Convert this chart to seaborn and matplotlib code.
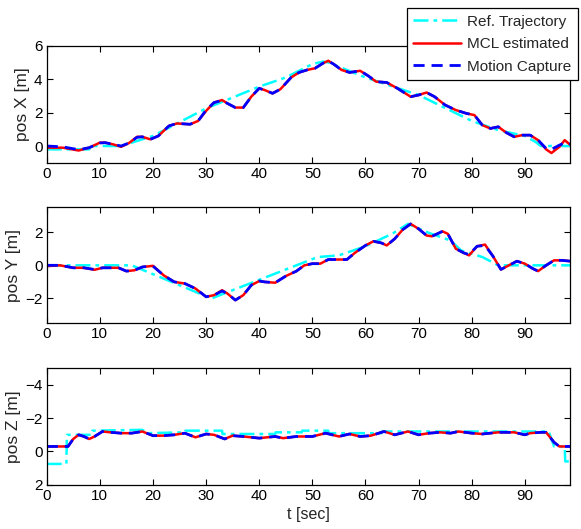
import numpy as np
import pandas as pd
import matplotlib
matplotlib.use('Agg')
import matplotlib.pyplot as plt
import seaborn as sns

sns.set_theme(style='ticks')
plt.rcParams['font.family'] = ['Liberation Sans', 'DejaVu Sans']
plt.rcParams['font.size'] = 11

# ---- data ----
# pos X
t_x = [0, 3, 6, 8, 10, 11, 12.5, 14, 15.5, 17, 18, 19.5, 21, 23, 24.5, 27, 28.5, 30, 31.5, 33,
       34, 35.5, 37, 38.5, 40, 41, 42.5, 44, 46, 47.5, 49, 50.5, 52, 53, 54, 55.5, 57, 59,
       60.5, 62, 64, 66, 68.5, 70, 71.5, 73, 75, 77, 79, 80.5, 82, 83.5, 85, 86.5, 88, 89.5,
       91, 92.5, 94, 95, 96.5, 97.5, 98.5]
mocap_x = [0.0, -0.05, -0.22, -0.1, 0.18, 0.2, 0.1, 0.0, 0.18, 0.52, 0.55, 0.4, 0.6, 1.2, 1.35, 1.3,
           1.5, 2.15, 2.6, 2.72, 2.55, 2.3, 2.3, 2.95, 3.45, 3.35, 3.15, 3.4, 4.1, 4.4, 4.55, 4.65,
           4.95, 5.08, 4.9, 4.55, 4.4, 4.5, 4.2, 3.85, 3.8, 3.45, 2.95, 3.05, 3.2, 2.95, 2.45, 2.15,
           1.95, 1.85, 1.25, 1.05, 1.15, 0.8, 0.55, 0.65, 0.65, 0.35, -0.15, -0.2, 0.05, 0.2, 0.12]
mcl_x = [-0.1, -0.1, -0.27, -0.1, 0.2, 0.2, 0.1, -0.05, 0.18, 0.55, 0.55, 0.4, 0.6, 1.2, 1.35, 1.3,
         1.5, 2.1, 2.6, 2.75, 2.55, 2.3, 2.3, 2.95, 3.45, 3.35, 3.15, 3.4, 4.1, 4.4, 4.55, 4.65,
         4.95, 5.1, 4.9, 4.55, 4.4, 4.5, 4.2, 3.85, 3.8, 3.45, 2.95, 3.05, 3.2, 2.95, 2.45, 2.15,
         1.95, 1.85, 1.25, 1.05, 1.15, 0.8, 0.55, 0.65, 0.65, 0.35, -0.2, -0.42, -0.05, 0.35, 0.08]
t_ref_x = [0, 8, 8.5, 14, 20, 30, 40, 45, 50, 52, 53, 60, 70, 80, 85, 90, 92, 93, 98.5]
ref_x = [-0.2, -0.2, 0.0, 0.0, 0.6, 2.25, 3.55, 4.1, 4.9, 5.05, 5.0, 4.1, 3.05, 1.5, 0.95, 0.6, 0.25, 0.0, 0.0]

# pos Y
t_y = [0, 2.5, 5, 7, 9, 10.5, 12, 13.5, 15, 16.5, 18, 19.5, 20, 22, 24, 26, 28, 30, 31.5, 33, 34,
       35.5, 37, 38.5, 40, 41, 43, 45, 47, 48.5, 50, 51.5, 53, 55, 56.5, 58, 60, 61.5, 63, 64,
       65.5, 67, 68.5, 70, 71.5, 72.5, 74.5, 75.5, 77, 78.5, 79.5, 81, 82.5, 84, 85.5, 87, 88.5,
       90, 91.5, 92.5, 94, 95.5, 97, 98.5]
mocap_y = [0.0, 0.0, -0.15, -0.15, -0.25, -0.15, -0.15, -0.15, -0.35, -0.3, -0.1, -0.05, -0.05,
           -0.6, -1.0, -1.1, -1.4, -1.9, -1.8, -1.55, -1.7, -2.1, -1.8, -1.2, -0.95, -1.0, -1.05,
           -0.65, -0.35, 0.0, 0.1, 0.1, 0.35, 0.35, 0.35, 0.75, 1.2, 1.45, 1.35, 1.2, 1.6, 2.15,
           2.5, 2.2, 1.8, 1.75, 2.05, 1.9, 1.0, 0.75, 0.65, 1.15, 1.2, 0.55, -0.25, 0.0, 0.25,
           0.1, -0.2, -0.35, 0.0, 0.3, 0.3, 0.25]
mcl_y = [-0.05, 0.0, -0.15, -0.15, -0.27, -0.15, -0.15, -0.15, -0.35, -0.3, -0.1, -0.05, -0.03,
         -0.6, -1.0, -1.1, -1.4, -1.9, -1.8, -1.5, -1.7, -2.1, -1.8, -1.2, -0.95, -1.0, -1.05,
         -0.65, -0.35, 0.0, 0.1, 0.1, 0.35, 0.35, 0.35, 0.75, 1.2, 1.45, 1.35, 1.2, 1.6, 2.15,
         2.5, 2.2, 1.8, 1.75, 2.05, 1.9, 1.0, 0.75, 0.6, 1.15, 1.25, 0.55, -0.25, 0.0, 0.25,
         0.1, -0.2, -0.35, 0.0, 0.3, 0.3, 0.25]
t_ref_y = [0, 16, 31, 51, 55, 60, 65, 68, 72, 76, 78, 82, 85, 98.5]
ref_y = [0.0, 0.0, -2.0, 0.5, 0.6, 1.15, 1.9, 2.5, 1.95, 1.5, 0.9, 0.5, 0.0, 0.0]

# pos Z
t_z = [0, 4, 5, 6, 7, 8, 9, 10.5, 12, 14, 16, 18, 20, 22, 24, 26, 28, 30, 31.5, 33.5, 35, 37,
       40, 43, 44.5, 47, 50, 52.5, 55, 57, 59, 61, 63.5, 65.5, 68, 70, 72, 74, 76, 77.5, 80,
       82, 85, 88, 90, 91, 93, 94, 95.5, 96.5, 98.5]
mocap_z = [-0.3, -0.3, -0.75, -1.0, -0.9, -0.75, -0.9, -1.2, -1.15, -1.1, -1.1, -1.2, -0.95,
           -0.95, -1.0, -1.1, -0.85, -1.05, -1.0, -0.75, -0.95, -0.9, -0.8, -0.9, -0.8, -0.9,
           -0.9, -1.1, -0.9, -1.05, -0.9, -0.95, -1.2, -1.0, -1.2, -1.0, -1.1, -1.15, -1.1,
           -1.2, -1.1, -1.05, -1.15, -1.15, -1.0, -1.1, -1.15, -1.15, -0.55, -0.3, -0.3]
mcl_z = mocap_z
t_ref_z = [0, 3.7, 3.8, 8.5, 8.6, 18, 19, 26, 26.1, 33, 33.1, 43, 43.1, 48, 48.1, 53, 53.1,
           63, 63.1, 94.5, 95.5, 97.5, 97.6, 98.5]
ref_z = [0.75, 0.75, -1.0, -1.0, -1.25, -1.3, -1.1, -1.15, -1.25, -1.25, -1.05, -1.05, -1.15,
         -1.15, -1.25, -1.25, -1.1, -1.1, -1.2, -1.2, -0.3, -0.3, 0.6, 0.6]

panels = [
    ('pos X [m]', t_x, mocap_x, mcl_x, t_ref_x, ref_x, (-1, 6), [0, 2, 4, 6]),
    ('pos Y [m]', t_y, mocap_y, mcl_y, t_ref_y, ref_y, (-3.5, 3.5), [-2, 0, 2]),
    ('pos Z [m]', t_z, mocap_z, mcl_z, t_ref_z, ref_z, (2, -5), [-4, -2, 0, 2]),
]

fig = plt.figure(figsize=(5.81, 5.29), dpi=100)
boxes = [[0.0804, 0.6924, 0.9007, 0.2212],
         [0.0804, 0.3888, 0.9007, 0.2193],
         [0.0804, 0.0837, 0.9007, 0.2201]]

for box, (ylab, t, moc, mcl, tr, ref, ylim, yt) in zip(boxes, panels):
    ax = fig.add_axes(box)
    df_ref = pd.DataFrame({'t': tr, 'v': ref})
    df_est = pd.DataFrame({'t': t, 'mcl': mcl, 'moc': moc})
    sns.lineplot(data=df_ref, x='t', y='v', ax=ax, color=(0, 1, 1), lw=1.8,
                 estimator=None, sort=False, label='Ref. Trajectory')
    ax.lines[-1].set_dashes([6, 2, 1.5, 2])
    sns.lineplot(data=df_est, x='t', y='mcl', ax=ax, color=(1, 0, 0), lw=1.8,
                 estimator=None, sort=False, label='MCL estimated')
    sns.lineplot(data=df_est, x='t', y='moc', ax=ax, color=(0, 0, 1), lw=2.0,
                 estimator=None, sort=False, label='Motion Capture')
    ax.lines[-1].set_dashes([4, 2.5])
    ax.set_xlim(0, 98.5)
    ax.set_ylim(*ylim)
    ax.set_xticks(range(0, 100, 10))
    ax.set_yticks(yt)
    ax.set_ylabel(ylab, fontsize=12.5, labelpad=3)
    ax.set_xlabel('')
    ax.tick_params(direction='in', length=4, width=0.8, top=True, right=True,
                   labelsize=11, colors='black', pad=3)
    for s in ax.spines.values():
        s.set_visible(True)
        s.set_color('black')
        s.set_linewidth(0.9)
    ax.get_legend().remove()
    if ylab == 'pos X [m]':
        handles, labels = ax.get_legend_handles_labels()
    if ylab == 'pos Z [m]':
        ax.set_xlabel('t [sec]', fontsize=11.5, labelpad=3)

leg = fig.legend(handles, labels, loc='upper right', bbox_to_anchor=(0.9948, 0.985),
                 frameon=True, fancybox=False, framealpha=1, edgecolor='black',
                 fontsize=11, handlelength=3.1, borderpad=0.45, labelspacing=0.55,
                 handletextpad=0.4, borderaxespad=0)
leg.get_frame().set_linewidth(0.9)

fig.savefig('out.png', dpi=100)
